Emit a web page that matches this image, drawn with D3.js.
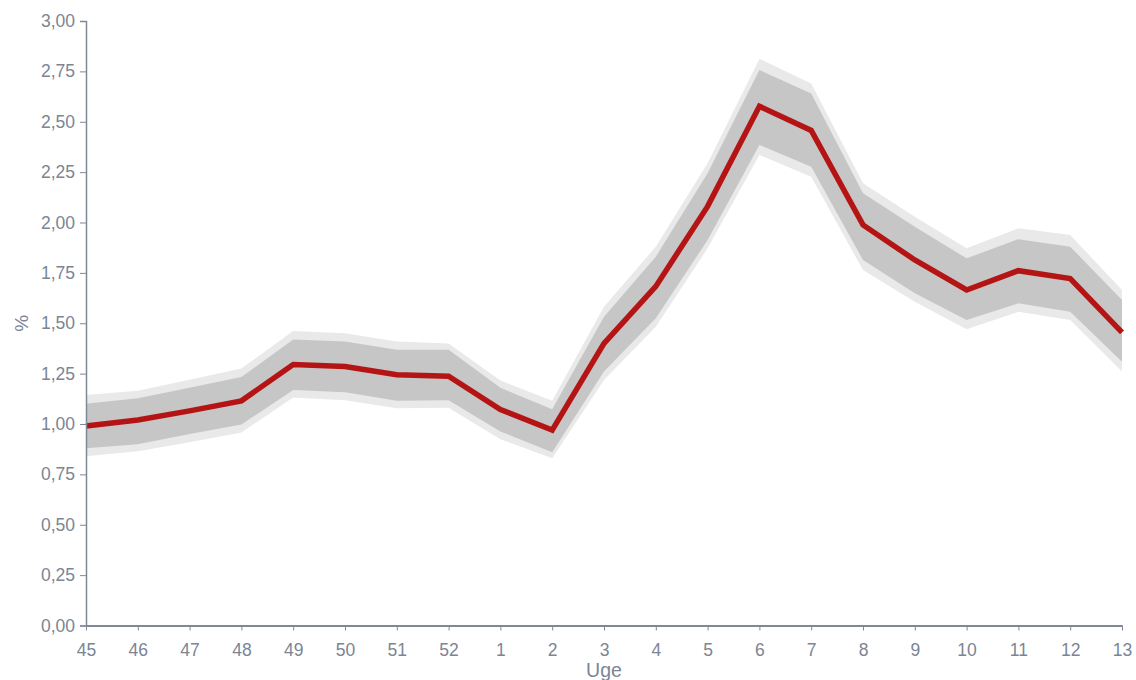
<!DOCTYPE html>
<html>
<head>
<meta charset="utf-8">
<script src="https://cdn.jsdelivr.net/npm/d3@7"></script>
<style>
  body { margin: 0; background: #fff; }
  svg { display: block; font-family: "Liberation Sans", Arial, sans-serif; }
  .axis path, .axis line { stroke: #7f8896; }
  .axis text { fill: #7b8594; font-size: 17.5px; }
</style>
</head>
<body>
<div id="chart"></div>
<script>
// weeks on the x axis
const weeks = ['45', '46', '47', '48', '49', '50', '51', '52', '1', '2', '3', '4', '5', '6', '7', '8', '9', '10', '11', '12', '13'];
// estimate (%)
const estimate = [0.99, 1.02, 1.065, 1.115, 1.295, 1.285, 1.245, 1.237, 1.072, 0.97, 1.40, 1.683, 2.08, 2.577, 2.457, 1.988, 1.814, 1.665, 1.761, 1.722, 1.455];
// inner band (dark grey)
const innerLow  = [0.88, 0.90, 0.95, 0.997, 1.169, 1.157, 1.115, 1.118, 0.963, 0.86, 1.26, 1.525, 1.913, 2.385, 2.277, 1.814, 1.649, 1.516, 1.599, 1.557, 1.309];
const innerHigh = [1.10, 1.128, 1.18, 1.233, 1.419, 1.41, 1.368, 1.368, 1.18, 1.073, 1.532, 1.83, 2.244, 2.757, 2.64, 2.145, 1.979, 1.822, 1.917, 1.88, 1.615];
// outer band (light grey)
const outerLow  = [0.84, 0.865, 0.91, 0.958, 1.132, 1.118, 1.078, 1.081, 0.924, 0.83, 1.218, 1.483, 1.872, 2.335, 2.227, 1.764, 1.607, 1.47, 1.557, 1.516, 1.26];
const outerHigh = [1.144, 1.165, 1.22, 1.275, 1.461, 1.45, 1.41, 1.40, 1.216, 1.115, 1.582, 1.88, 2.294, 2.812, 2.69, 2.195, 2.029, 1.872, 1.971, 1.938, 1.665];
const yTicks = [0, 0.25, 0.5, 0.75, 1, 1.25, 1.5, 1.75, 2, 2.25, 2.5, 2.75, 3];

const W = 1136, H = 680;
const margin = { top: 21, right: 14, bottom: 55, left: 86 };

const svg = d3.select('#chart').append('svg')
  .attr('width', W)
  .attr('height', H);

const x = d3.scalePoint()
  .domain(weeks)
  .range([margin.left, W - margin.right]);

const y = d3.scaleLinear()
  .domain([0, 3])
  .range([H - margin.bottom + 0.5, margin.top]);

const fmt = d => d3.format('.2f')(d).replace('.', ',');

const rows = weeks.map((w, i) => ({
  w, est: estimate[i],
  il: innerLow[i], ih: innerHigh[i],
  ol: outerLow[i], oh: outerHigh[i]
}));

// bands
const outerArea = d3.area().x(d => x(d.w)).y0(d => y(d.ol)).y1(d => y(d.oh));
const innerArea = d3.area().x(d => x(d.w)).y0(d => y(d.il)).y1(d => y(d.ih));

svg.append('path').datum(rows).attr('d', outerArea).attr('fill', '#e9e9e9');
svg.append('path').datum(rows).attr('d', innerArea).attr('fill', '#c6c6c6');

svg.append('path').datum(rows)
  .attr('d', d3.line().x(d => x(d.w)).y(d => y(d.est)))
  .attr('fill', 'none')
  .attr('stroke', '#b51414')
  .attr('stroke-width', 5.5)
  .attr('stroke-linejoin', 'miter');

// axes
svg.append('g')
  .attr('class', 'axis')
  .attr('transform', `translate(${margin.left},0)`)
  .call(d3.axisLeft(y).tickValues(yTicks).tickFormat(fmt).tickSize(6).tickPadding(5))
  .call(g => g.select('.domain').attr('stroke-width', 1.5));

svg.append('g')
  .attr('class', 'axis')
  .attr('transform', `translate(0,${y(0)})`)
  .call(d3.axisBottom(x).tickSize(5).tickPadding(13).tickSizeOuter(0))
  .call(g => g.select('.domain').attr('stroke-width', 2));

// axis titles
svg.append('text')
  .attr('transform', `translate(${28},${y(1.5)}) rotate(-90)`)
  .attr('text-anchor', 'middle')
  .attr('fill', '#7b8594')
  .style('font-size', '19px')
  .text('%');

svg.append('text')
  .attr('x', 604)
  .attr('y', 677)
  .attr('text-anchor', 'middle')
  .attr('fill', '#7b8594')
  .style('font-size', '19.5px')
  .text('Uge');
</script>
</body>
</html>
